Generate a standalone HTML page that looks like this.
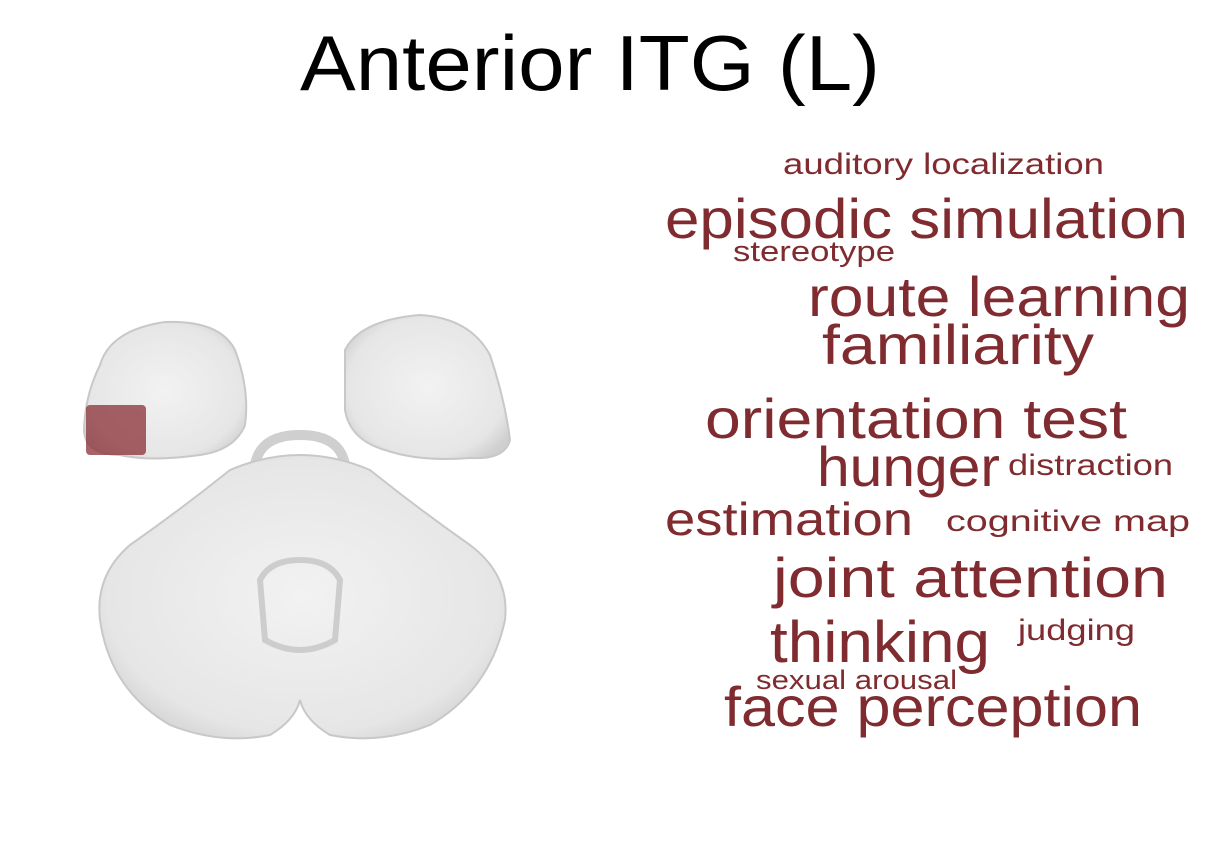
<!DOCTYPE html>
<html><head><meta charset="utf-8"><style>
html,body{margin:0;padding:0;background:#fff;width:1215px;height:850px;overflow:hidden}
svg{display:block}
text{font-family:"Liberation Sans","DejaVu Sans",sans-serif}
.w{fill:#7f2b2f}
</style></head><body>
<svg width="1215" height="850" viewBox="0 0 1215 850">
<text x="590" y="90" text-anchor="middle" font-size="78" textLength="580" lengthAdjust="spacingAndGlyphs">Anterior ITG (L)</text>
<g>
<defs><radialGradient id="g1" cx="50%" cy="50%" r="60%"><stop offset="0" stop-color="#f2f2f2"/><stop offset="0.8" stop-color="#e6e6e6"/><stop offset="1" stop-color="#cfcfcf"/></radialGradient></defs>
<path d="M100 365 Q110 330 165 322 Q220 320 235 350 Q250 390 245 425 Q235 450 200 455 Q150 462 120 455 Q85 455 84 430 Q85 395 100 365Z" fill="url(#g1)" stroke="#c8c8c8" stroke-width="2"/>
<path d="M345 350 Q360 320 420 315 Q470 318 490 355 Q505 400 510 440 Q505 460 470 458 Q420 462 385 450 Q350 440 345 410 Z" fill="url(#g1)" stroke="#c8c8c8" stroke-width="2"/>
<path d="M255 465 Q260 435 300 435 Q340 435 345 465" fill="none" stroke="#cfcfcf" stroke-width="10"/>
<path d="M230 470 Q265 455 300 455 Q335 455 370 470 Q420 510 470 545 Q510 575 505 620 Q490 690 430 725 Q380 745 330 735 Q305 720 300 700 Q295 720 270 735 Q220 745 170 725 Q110 690 100 620 Q95 575 130 545 Q180 510 230 470Z" fill="url(#g1)" stroke="#c8c8c8" stroke-width="2"/>
<path d="M260 580 Q270 560 300 560 Q330 560 340 580 L335 640 Q300 660 265 640Z" fill="none" stroke="#cdcdcd" stroke-width="6"/>
<rect x="86" y="405" width="60" height="50" rx="4" fill="#8b2f35" opacity="0.75"/>
</g>
<g>
<text class="w" x="783" y="174" font-size="30" textLength="321" lengthAdjust="spacingAndGlyphs">auditory localization</text>
<text class="w" x="665" y="238" font-size="56" textLength="523" lengthAdjust="spacingAndGlyphs">episodic simulation</text>
<text class="w" x="733" y="261" font-size="29" textLength="162" lengthAdjust="spacingAndGlyphs">stereotype</text>
<text class="w" x="808" y="316" font-size="56" textLength="382" lengthAdjust="spacingAndGlyphs">route learning</text>
<text class="w" x="822" y="364" font-size="56" textLength="272" lengthAdjust="spacingAndGlyphs">familiarity</text>
<text class="w" x="705" y="438" font-size="56" textLength="422" lengthAdjust="spacingAndGlyphs">orientation test</text>
<text class="w" x="817" y="486" font-size="56" textLength="183" lengthAdjust="spacingAndGlyphs">hunger</text>
<text class="w" x="1008" y="475" font-size="30" textLength="165" lengthAdjust="spacingAndGlyphs">distraction</text>
<text class="w" x="665" y="535" font-size="46" textLength="248" lengthAdjust="spacingAndGlyphs">estimation</text>
<text class="w" x="946" y="531" font-size="30" textLength="244" lengthAdjust="spacingAndGlyphs">cognitive map</text>
<text class="w" x="773" y="597" font-size="56" textLength="395" lengthAdjust="spacingAndGlyphs">joint attention</text>
<text class="w" x="770" y="662" font-size="58" textLength="220" lengthAdjust="spacingAndGlyphs">thinking</text>
<text class="w" x="1018" y="640" font-size="30" textLength="117" lengthAdjust="spacingAndGlyphs">judging</text>
<text class="w" x="756" y="689" font-size="27" textLength="201" lengthAdjust="spacingAndGlyphs">sexual arousal</text>
<text class="w" x="724" y="726" font-size="56" textLength="418" lengthAdjust="spacingAndGlyphs">face perception</text>
</g>
</svg>
</body></html>
